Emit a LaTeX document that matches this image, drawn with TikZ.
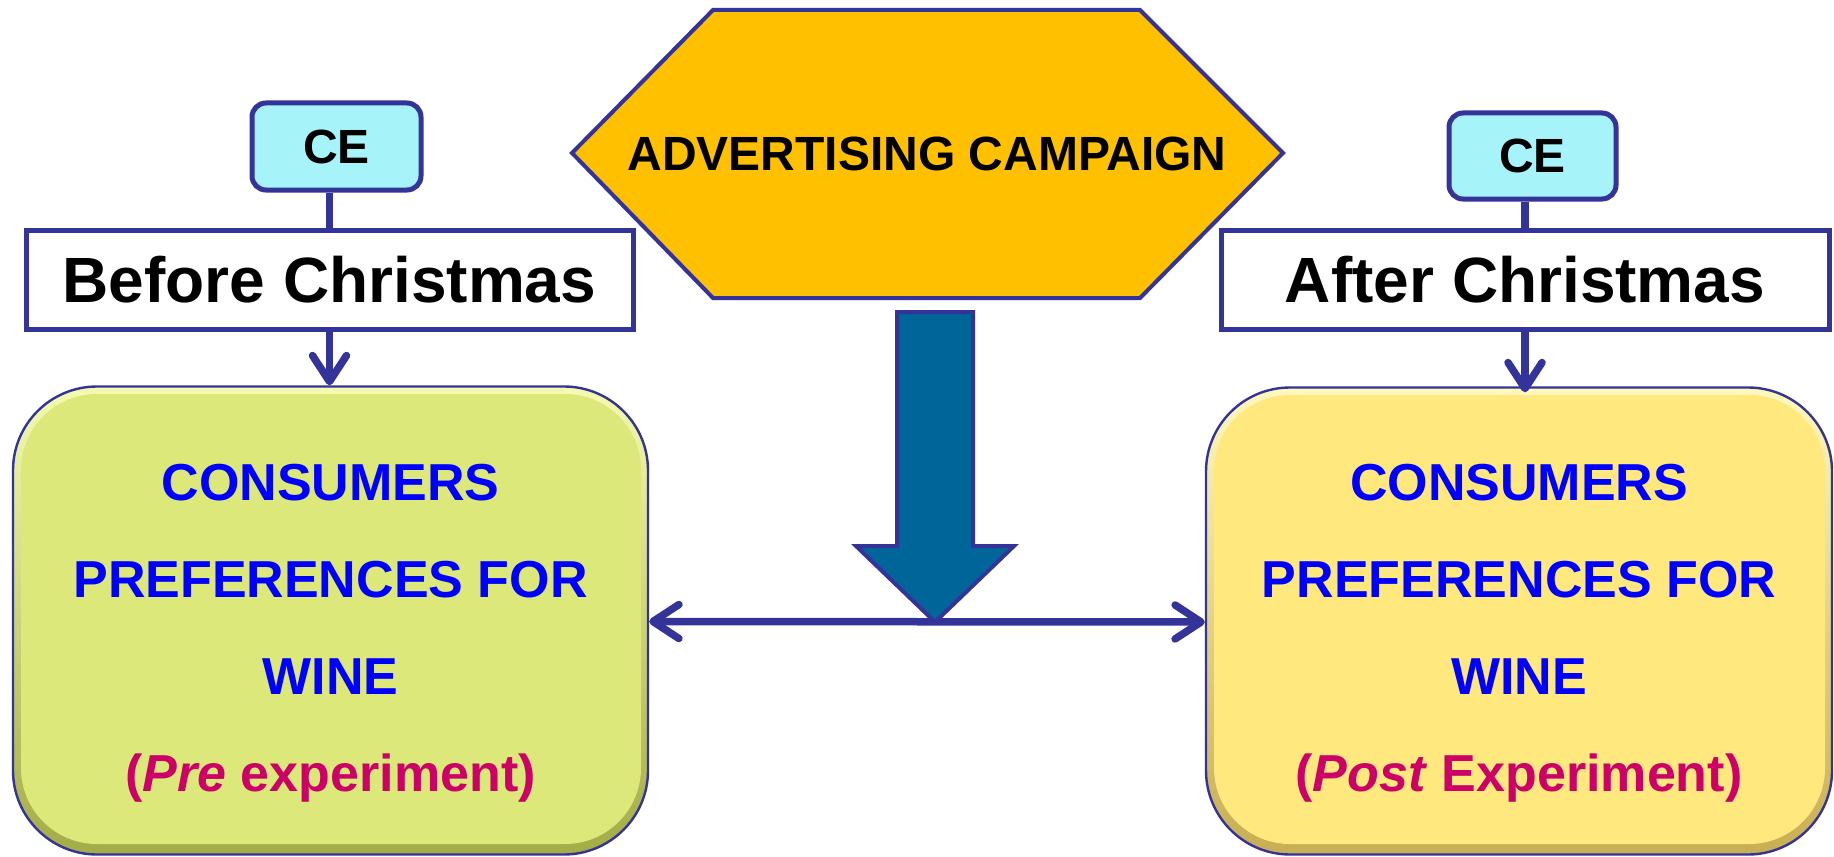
\documentclass[tikz,border=0pt]{standalone}
\usepackage{fontspec}
\setmainfont{Liberation Sans}
\usetikzlibrary{arrows.meta}
\definecolor{navy}{HTML}{333399}
\definecolor{cefill}{HTML}{A6F3F9}
\definecolor{hexfill}{HTML}{FFC000}
\definecolor{tealarrow}{HTML}{006699}
\definecolor{lgreen}{HTML}{DCE97A}
\definecolor{lgreenhi}{HTML}{F4FBB0}
\definecolor{lgreenlo}{HTML}{A3AC45}
\definecolor{lyellow}{HTML}{FFE97F}
\definecolor{lyellowhi}{HTML}{FFF8BC}
\definecolor{lyellowlo}{HTML}{C8AE52}
\definecolor{txtblue}{HTML}{0000FF}
\definecolor{txtmag}{HTML}{CC0066}
\begin{document}
\begin{tikzpicture}[x=0.5pt,y=-0.5pt,
  cebox/.style={draw=navy, line width=2.5pt, fill=cefill, rounded corners=7pt, inner sep=0pt,
    font=\fontsize{24}{28}\selectfont\bfseries},
  labelbox/.style={draw=navy, line width=2.5pt, fill=white, inner sep=0pt,
    font=\fontsize{32}{38}\selectfont\bfseries},
  conn/.style={draw=navy, line width=3.75pt},
  arr/.style={conn, -{Straight Barb[length=13pt,width=17pt,round]}},
  dblarr/.style={conn, {Straight Barb[length=13pt,width=17pt,round]}-{Straight Barb[length=13pt,width=17pt,round]}},
  bigouter/.style={draw=navy, line width=1.2pt, rounded corners=42pt, inner sep=0pt},
  biginner/.style={rounded corners=38pt, inner sep=0pt},
  bigtext/.style={font=\fontsize{26}{48.5}\selectfont\bfseries, align=center, text=txtblue, inner sep=0pt},
  hexshape/.style={draw=navy, line width=2pt, fill=hexfill, line join=miter},
  bigarrow/.style={draw=navy, line width=2pt, fill=tealarrow, line join=miter}
]
\useasboundingbox (0,0) rectangle (1834,856);
\fill[white] (0,0) rectangle (1834,856);

% hexagon
\draw[hexshape] (572,153) -- (713,10) -- (1140,10) -- (1283,153) -- (1140,298) -- (713,298) -- cycle;
\node[font=\fontsize{24}{28}\selectfont\bfseries, inner sep=0pt] (adv) at (927,154) {ADVERTISING CAMPAIGN};

% CE boxes
\node[cebox, minimum width=84.5pt, minimum height=43.5pt] (ceL) at (336.5,146.5) {CE};
\node[cebox, minimum width=83.5pt, minimum height=43pt] (ceR) at (1532.5,156) {CE};

% label boxes
\node[labelbox, minimum width=303.5pt, minimum height=49.5pt] (before) at (329.5,279.5) {Before Christmas};
\node[labelbox, minimum width=304pt, minimum height=49.5pt] (after) at (1525,279.5) {After Christmas};

% big boxes
\node[bigouter, top color=lgreenhi, bottom color=lgreenlo, minimum width=317.5pt, minimum height=234pt] (leftbox) at (330.5,620.5) {};
\node[biginner, fill=lgreen, minimum width=310pt, minimum height=225pt] (leftinner) at (331,619) {};
\node[bigouter, top color=lyellowhi, bottom color=lyellowlo, minimum width=313pt, minimum height=233.5pt] (rightbox) at (1519,621) {};
\node[biginner, fill=lyellow, minimum width=305.5pt, minimum height=224.5pt] (rightinner) at (1519.5,619.5) {};

\node[bigtext] (lefttext) at (330.5,633) {CONSUMERS\\PREFERENCES FOR\\WINE\\\textcolor{txtmag}{(\textit{Pre} experiment)}};
\node[bigtext] (righttext) at (1519,633) {CONSUMERS\\PREFERENCES FOR\\WINE\\\textcolor{txtmag}{(\textit{Post} Experiment)}};

% connectors
\draw[conn] (ceL.south -| before.north) -- (before.north);
\draw[conn] (ceR.south -| after.north) -- (after.north);
\draw[arr] (before.south) -- (before.south |- leftbox.north);
\draw[arr] (after.south) -- ([yshift=-3pt]after.south |- rightbox.north);

\draw[dblarr] ([yshift=-0.5pt]leftbox.east) -- ([yshift=-0.5pt]rightbox.west);

% big teal arrow
\draw[bigarrow] (897,312) -- (973,312) -- (973,546) -- (1014,546) -- (935,622) -- (856,546) -- (897,546) -- cycle;
\end{tikzpicture}
\end{document}
